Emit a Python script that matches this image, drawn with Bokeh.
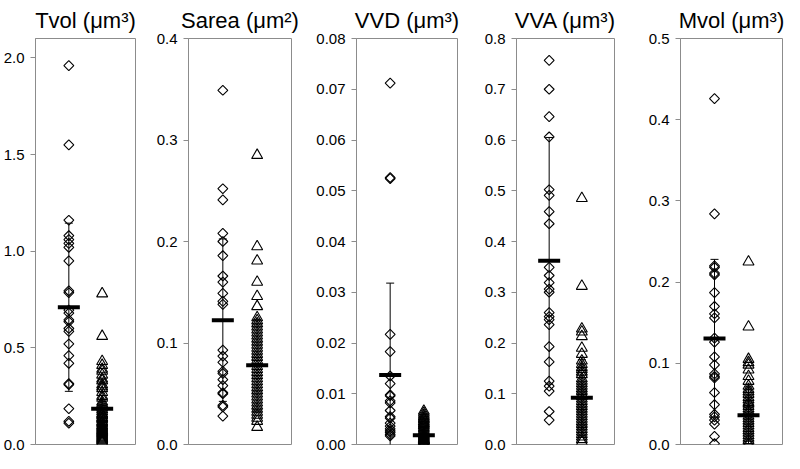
import math
from bokeh.plotting import figure
from bokeh.layouts import row
from bokeh.models import FixedTicker, NumeralTickFormatter, Range1d, ColumnDataSource
from bokeh.embed import file_html
from bokeh.resources import INLINE

# ---------------- data ----------------
titles = ["Tvol (μm³)", "Sarea (μm²)", "VVD (μm³)", "VVA (μm³)", "Mvol (μm³)"]

y_max = [2.1, 0.4, 0.08, 0.8, 0.5]
tick_step = [0.5, 0.1, 0.01, 0.1, 0.1]
tick_format = ["0.0", "0.0", "0.00", "0.0", "0.0"]

# group 1 (diamonds)
tvol_g1 = [1.96, 1.55, 1.16, 1.08, 1.06, 1.04, 1.02, 0.95, 0.795, 0.785, 0.695, 0.68,
           0.645, 0.635, 0.60, 0.585, 0.52, 0.46, 0.42, 0.315, 0.31, 0.185, 0.12, 0.11]
sarea_g1 = [0.349, 0.252, 0.241, 0.208, 0.200, 0.186, 0.166, 0.160, 0.149, 0.141, 0.138,
            0.093, 0.087, 0.081, 0.072, 0.070, 0.064, 0.058, 0.051, 0.050, 0.0385, 0.037, 0.028]
vvd_g1 = [0.0712, 0.0526, 0.0524, 0.0217, 0.0183, 0.0135, 0.0120, 0.0098, 0.0096, 0.0086,
          0.0082, 0.0067, 0.0055, 0.0052, 0.0042, 0.0036, 0.0031, 0.0027, 0.0024, 0.0020, 0.0017]
vva_g1 = [0.757, 0.700, 0.646, 0.606, 0.502, 0.491, 0.459, 0.435, 0.349, 0.333, 0.319, 0.306,
          0.300, 0.260, 0.252, 0.246, 0.236, 0.193, 0.163, 0.125, 0.115, 0.105, 0.065, 0.048]
mvol_g1 = [0.426, 0.284, 0.220, 0.218, 0.211, 0.209, 0.187, 0.170, 0.161, 0.156, 0.131, 0.126,
           0.108, 0.098, 0.087, 0.084, 0.082, 0.064, 0.049, 0.037, 0.034, 0.030, 0.025, 0.010, 0.001]

# group 2 (triangles)
tvol_g2 = [0.78, 0.56, 0.43, 0.41, 0.39, 0.38, 0.36, 0.34, 0.33, 0.31, 0.30, 0.29, 0.27, 0.25,
           0.24, 0.22, 0.21, 0.20, 0.19, 0.18, 0.17, 0.16, 0.155, 0.15, 0.14, 0.135, 0.13, 0.12,
           0.115, 0.11, 0.10, 0.095, 0.09, 0.085, 0.08, 0.075, 0.07, 0.065, 0.06, 0.055, 0.05,
           0.045, 0.04, 0.035, 0.03, 0.025, 0.02, 0.015, 0.01]
sarea_g2 = [0.285, 0.195, 0.181, 0.160, 0.146, 0.136, 0.125, 0.122, 0.119, 0.116, 0.113, 0.110,
            0.107, 0.104, 0.101, 0.098, 0.095, 0.092, 0.089, 0.086, 0.083, 0.080, 0.077, 0.074,
            0.071, 0.068, 0.065, 0.062, 0.059, 0.056, 0.053, 0.050, 0.047, 0.044, 0.041, 0.038,
            0.035, 0.032, 0.029, 0.026, 0.023, 0.017]
vvd_g2 = [0.0066, 0.0062, 0.0058, 0.0055, 0.0052, 0.0050, 0.0048, 0.0045, 0.0042, 0.0040,
          0.0037, 0.0034, 0.0031, 0.0028, 0.0025, 0.0022, 0.0020, 0.0018, 0.0016, 0.0014,
          0.0012, 0.0010, 0.0009, 0.0008, 0.0007, 0.0006, 0.0005, 0.0004, 0.0003, 0.0002,
          0.0001, 0.0]
vva_g2 = [0.485, 0.312, 0.228, 0.222, 0.213, 0.190, 0.178, 0.165, 0.158, 0.152, 0.148, 0.143,
          0.138, 0.130, 0.125, 0.120, 0.115, 0.110, 0.105, 0.100, 0.095, 0.090, 0.085, 0.080,
          0.075, 0.070, 0.065, 0.060, 0.055, 0.050, 0.045, 0.040, 0.035, 0.030, 0.025, 0.020,
          0.015, 0.010, 0.005]
mvol_g2 = [0.225, 0.145, 0.105, 0.101, 0.098, 0.092, 0.084, 0.078, 0.072, 0.068, 0.065, 0.062,
           0.058, 0.055, 0.052, 0.050, 0.047, 0.044, 0.041, 0.038, 0.035, 0.032, 0.029, 0.026,
           0.023, 0.020, 0.017, 0.014, 0.011, 0.008, 0.005, 0.002, 0.0]

group1 = [tvol_g1, sarea_g1, vvd_g1, vva_g1, mvol_g1]
group2 = [tvol_g2, sarea_g2, vvd_g2, vva_g2, mvol_g2]

# means and standard deviations as drawn
mean1 = [0.71, 0.1225, 0.0137, 0.362, 0.1305]
sd1 = [0.435, 0.080, 0.0181, 0.243, 0.0975]
mean2 = [0.185, 0.078, 0.0018, 0.092, 0.036]
sd2 = [0.15, 0.045, 0.0018, 0.075, 0.035]

# ---------------- layout ----------------
fig_w = [142, 162, 163, 160, 157]
b_left = [33, 46, 52, 49, 53]
b_right = [7, 13, 10, 13, 2]
FIG_H = 453
GRAY = "#8c8c8c"
FONT = "Liberation Sans"

figs = []
for i in range(5):
    p = figure(width=fig_w[i], height=FIG_H, output_backend="svg", toolbar_location=None,
               x_range=Range1d(0, 3), y_range=Range1d(0, y_max[i]),
               min_border_left=b_left[i], min_border_right=b_right[i],
               min_border_bottom=9, min_border_top=0)
    p.title.text = titles[i]
    p.title.align = "center"
    p.title.text_font = FONT
    p.title.text_font_size = "22px"
    p.title.text_font_style = "normal"
    p.title.text_color = "black"
    p.title.standoff = 11
    p.grid.visible = False
    p.xaxis.visible = False
    p.outline_line_color = GRAY
    p.outline_line_width = 1
    p.background_fill_color = "white"
    p.border_fill_color = "white"

    n = int(round(y_max[i] / tick_step[i]))
    ticks = [round(k * tick_step[i], 4) for k in range(n + 1) if k * tick_step[i] <= y_max[i] + 1e-9]
    ax = p.yaxis[0]
    ax.ticker = FixedTicker(ticks=ticks, minor_ticks=[])
    ax.formatter = NumeralTickFormatter(format=tick_format[i])
    ax.axis_line_color = GRAY
    ax.major_tick_line_color = GRAY
    ax.major_tick_in = 0
    ax.major_tick_out = 5
    ax.minor_tick_line_color = None
    ax.major_label_standoff = 6
    ax.major_label_text_font = FONT
    ax.major_label_text_font_size = "15px"
    ax.major_label_text_color = "black"

    g1 = group1[i]
    g2 = group2[i]
    s1 = ColumnDataSource(dict(x=[1] * len(g1), y=g1))
    s2 = ColumnDataSource(dict(x=[2] * len(g2), y=g2))

    # error bars
    ex = [1, 2]
    lo = [mean1[i] - sd1[i], mean2[i] - sd2[i]]
    hi = [mean1[i] + sd1[i], mean2[i] + sd2[i]]
    p.segment(x0=ex, y0=lo, x1=ex, y1=hi, line_color="black", line_width=1)
    p.scatter(x=ex + ex, y=lo + hi, marker="dash", size=8, line_color="black", line_width=1)

    # points
    p.scatter("x", "y", source=s1, marker="square", angle=math.pi / 4, size=7,
              fill_color="white", fill_alpha=0, line_color="black", line_width=1.1)
    p.scatter("x", "y", source=s2, marker="triangle", size=11,
              fill_color="white", fill_alpha=0, line_color="black", line_width=1.1)

    # mean bars
    p.scatter(x=ex, y=[mean1[i], mean2[i]], marker="dash", size=22,
              line_color="black", line_width=4)
    figs.append(p)

layout = row(*figs, spacing=0)
open("out.html", "w").write(file_html(layout, INLINE))
